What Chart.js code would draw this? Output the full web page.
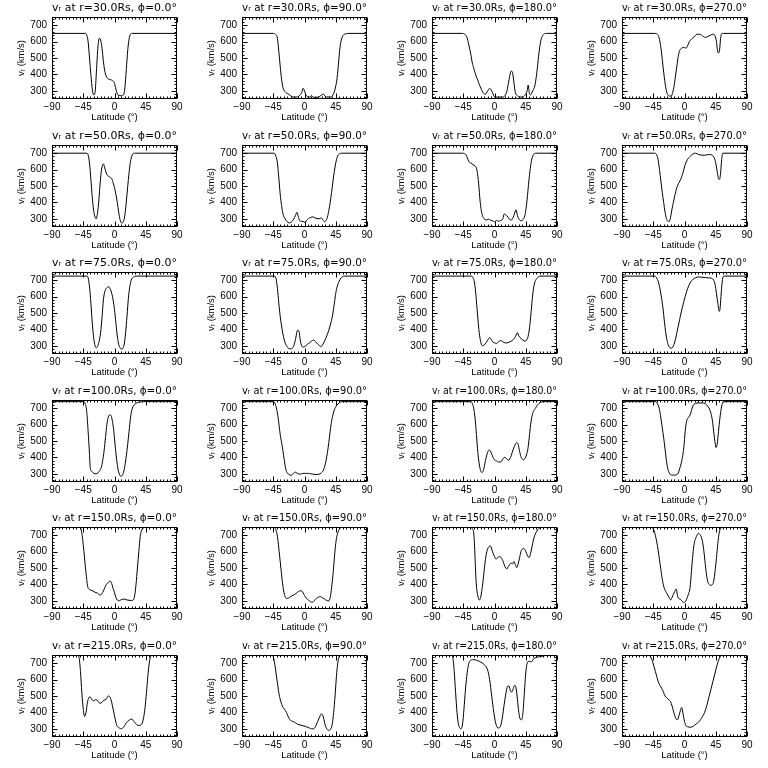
<!DOCTYPE html>
<html>
<head>
<meta charset="utf-8">
<script src="https://cdn.jsdelivr.net/npm/chart.js@4.4.1/dist/chart.umd.min.js"></script>
<style>
  html, body { margin: 0; padding: 0; background: #fff; }
  #wrap { position: relative; width: 768px; height: 768px; overflow: hidden; background: #fff; }
  #wrap canvas { position: absolute; }
</style>
</head>
<body>
<div id="wrap"></div>
<script>
// radial distance (Rs) per row, longitude (deg) per column
const radii = [30, 50, 75, 100, 150, 215];
const phis = [0, 90, 180, 270];
const xTicks = [-90, -45, 0, 45, 90];
const yTicks = [300, 400, 500, 600, 700];
const yMin = 250;
const yMax = 750;

// [latitude, vr km/s]
const v30_0 = [[-90,650],[-42,650],[-40,640],[-38,600],[-36,500],[-34,400],[-32,310],[-30,275],[-28,290],[-26,420],[-24,560],[-22,620],[-20,610],[-18,560],[-16,480],[-14,420],[-12,390],[-10,375],[-6,368],[-2,360],[0,345],[2,310],[4,282],[6,272],[10,270],[13,275],[15,320],[17,430],[19,545],[21,615],[23,645],[26,650],[90,650]];
const v30_90 = [[-90,650],[-45,650],[-42,645],[-39,620],[-37,540],[-35,450],[-33,370],[-31,320],[-28,295],[-24,282],[-20,270],[-16,262],[-12,262],[-8,268],[-4,290],[-2,315],[0,300],[2,275],[5,262],[8,262],[10,272],[12,262],[16,260],[20,262],[24,272],[27,280],[30,265],[34,262],[38,262],[41,275],[44,310],[47,380],[49,470],[51,560],[53,610],[56,640],[60,648],[64,650],[90,650]];
const v30_180 = [[-90,650],[-46,650],[-43,645],[-40,630],[-37,580],[-34,520],[-32,470],[-30,440],[-28,410],[-26,385],[-24,365],[-22,340],[-19,310],[-16,285],[-13,280],[-10,298],[-7,315],[-4,300],[-2,280],[0,262],[4,262],[8,262],[12,262],[15,270],[18,300],[21,370],[24,420],[26,410],[28,350],[30,290],[33,270],[37,262],[41,262],[44,275],[47,300],[48.5,335],[50,290],[52,275],[55,300],[58,330],[60,380],[62,450],[64,530],[66,590],[68,625],[71,645],[75,650],[90,650]];
const v30_270 = [[-90,650],[-42,650],[-39,645],[-37,630],[-35,590],[-33,530],[-31,450],[-29,380],[-27,320],[-25,285],[-22,268],[-19,268],[-17,290],[-15,330],[-13,390],[-11,450],[-9,510],[-7,545],[-4,560],[-1,565],[2,560],[4,570],[7,600],[10,615],[14,630],[18,645],[22,645],[26,635],[30,625],[34,632],[38,640],[41,645],[44,635],[46,600],[47.5,545],[49,530],[50.5,550],[52,620],[53.5,648],[56,650],[90,650]];

const v50_0 = [[-90,700],[-40,700],[-38,690],[-36,640],[-34,540],[-32,430],[-30,350],[-28,310],[-26.5,300],[-25,320],[-23,390],[-21,500],[-19,590],[-17,630],[-16,635],[-14,610],[-12,580],[-10,565],[-7,555],[-4,545],[-2,520],[0,490],[2,450],[4,400],[6,340],[8,295],[10,275],[12,278],[14,300],[16,360],[18,450],[20,540],[22,620],[24,670],[27,698],[30,700],[90,700]];
const v50_90 = [[-90,700],[-44,700],[-41,680],[-39,640],[-37,550],[-35,450],[-33,380],[-31,330],[-28,300],[-25,282],[-22,275],[-19,280],[-16,295],[-13,320],[-11,340],[-9,315],[-7,290],[-4,285],[-1,282],[1,278],[3,290],[6,303],[9,308],[12,312],[15,305],[18,302],[21,300],[24,305],[27,290],[29,282],[31,290],[33,310],[35,350],[37,400],[39,460],[41,530],[43,590],[45,640],[47,675],[50,695],[54,700],[90,700]];
const v50_180 = [[-90,700],[-46,700],[-43,697],[-41,690],[-39,670],[-37,650],[-34,640],[-31,630],[-28,622],[-26,610],[-24,560],[-22.5,500],[-21,420],[-19,350],[-17,315],[-15,300],[-12,292],[-9,298],[-6,292],[-3,288],[0,282],[3,290],[6,285],[9,290],[12,300],[14,330],[16,325],[18,318],[21,300],[24,292],[27,310],[29,335],[31,355],[33,320],[35,300],[38,288],[41,295],[43,310],[45,350],[47,420],[49,510],[51,590],[53,650],[56,690],[60,700],[90,700]];
const v50_270 = [[-90,700],[-43,700],[-40,690],[-38,660],[-36,600],[-34,530],[-32,460],[-30,400],[-28,340],[-26,300],[-24,285],[-22,283],[-20,310],[-18,360],[-16,400],[-14,440],[-11,490],[-8,520],[-5,545],[-3,570],[-1,600],[1,630],[4,660],[8,680],[12,695],[16,700],[20,692],[25,688],[30,688],[35,692],[40,688],[43,670],[45,640],[47,590],[49,545],[50.5,540],[52,580],[53.5,660],[55,700],[90,700]];

const v75_0 = [[-90,725],[-40,725],[-38,715],[-36,660],[-34,560],[-32,440],[-30,350],[-28,300],[-26,288],[-24,300],[-22,330],[-20,380],[-18,470],[-16,580],[-14,630],[-12,650],[-10,658],[-8,660],[-6,645],[-4,620],[-2,580],[0,520],[2,440],[4,360],[6,310],[8,288],[10,280],[12,285],[14,310],[16,380],[18,480],[20,590],[22,660],[24,700],[27,718],[31,725],[90,725]];
const v75_90 = [[-90,725],[-43,725],[-41,710],[-39,650],[-37,560],[-35,480],[-33,420],[-31,370],[-28,320],[-25,295],[-22,282],[-19,282],[-16,295],[-14,320],[-12,360],[-10,395],[-8,390],[-6,330],[-4,300],[-2,292],[1,298],[4,308],[7,318],[10,328],[13,335],[16,325],[19,310],[22,300],[24,295],[26,305],[29,330],[32,360],[35,395],[38,440],[41,500],[43,560],[45,620],[47,660],[50,695],[53,715],[57,725],[90,725]];
const v75_180 = [[-90,725],[-33,725],[-31,715],[-29,690],[-27,620],[-25,520],[-23,420],[-21,350],[-19,310],[-17,300],[-15,305],[-12,320],[-9,340],[-7,350],[-5,340],[-3,325],[0,318],[3,315],[6,325],[9,332],[12,325],[15,318],[18,318],[21,322],[24,328],[27,338],[30,355],[32,375],[33,380],[35,360],[38,345],[41,335],[44,328],[47,340],[49,370],[51,430],[53,520],[55,610],[57,670],[60,705],[63,720],[67,725],[90,725]];
const v75_270 = [[-90,725],[-43,725],[-41,720],[-39,705],[-37,680],[-35,640],[-33,590],[-31,530],[-29,450],[-27,380],[-25,330],[-23,300],[-21,288],[-19,285],[-17,292],[-15,310],[-13,340],[-11,380],[-9,420],[-7,460],[-5,500],[-3,535],[-1,570],[1,600],[3,630],[6,665],[9,690],[12,705],[16,715],[20,720],[25,718],[30,716],[35,714],[39,712],[42,700],[44,675],[46,620],[48,560],[50,510],[51,520],[52.5,600],[54,680],[55.5,720],[57,725],[90,725]];

const v100_0 = [[-90,740],[-44,740],[-42,725],[-40,680],[-38,560],[-36,420],[-35,340],[-33,315],[-31,308],[-28,300],[-25,302],[-22,315],[-19,340],[-17,380],[-15,440],[-13,520],[-11,600],[-9,645],[-7,660],[-5,655],[-3,620],[-1,560],[1,470],[3,390],[5,330],[7,298],[9,285],[11,288],[13,310],[15,350],[17,410],[19,480],[21,560],[23,640],[25,690],[28,718],[32,732],[37,738],[42,740],[90,740]];
const v100_90 = [[-90,740],[-45,740],[-43,735],[-41,710],[-39,670],[-37,610],[-35,540],[-33,490],[-31,440],[-29,380],[-27,330],[-25,305],[-23,298],[-21,292],[-19,290],[-17,300],[-15,305],[-13,310],[-11,305],[-9,300],[-6,298],[-3,302],[0,303],[3,302],[6,303],[9,300],[12,298],[15,296],[18,296],[21,298],[24,305],[27,320],[29,345],[31,380],[33,430],[35,490],[37,560],[39,620],[41,660],[43,690],[46,715],[50,732],[54,740],[90,740]];
const v100_180 = [[-90,740],[-34,740],[-32,730],[-30,700],[-28,640],[-26,540],[-24,430],[-22,360],[-20,320],[-18,308],[-16,320],[-14,360],[-12,400],[-10,430],[-8,445],[-6,440],[-4,420],[-2,400],[0,385],[3,378],[6,372],[9,372],[12,390],[14,400],[16,398],[18,390],[20,382],[22,390],[24,410],[27,450],[30,480],[32,490],[34,480],[36,440],[38,405],[40,390],[42,385],[44,395],[46,415],[48,450],[50,520],[52,600],[54,650],[56,680],[59,700],[62,720],[66,735],[70,740],[90,740]];
const v100_270 = [[-90,740],[-42,740],[-40,735],[-38,720],[-36,690],[-34,640],[-32,580],[-30,520],[-28,450],[-26,380],[-24,330],[-22,305],[-20,295],[-17,292],[-14,292],[-11,295],[-9,305],[-7,330],[-5,360],[-3,400],[-1,460],[1,560],[3,620],[5,640],[7,650],[9,670],[11,700],[13,720],[16,730],[20,732],[25,732],[30,728],[33,715],[36,695],[38,670],[40,630],[42,560],[44,490],[45.5,460],[47,480],[49,560],[51,640],[53,700],[55,735],[57,740],[90,740]];

const v150_0 = [[-90,750],[-50,750],[-48,735],[-46,680],[-44,600],[-42,510],[-40,430],[-38.5,385],[-37,372],[-34,365],[-31,360],[-28,352],[-25,348],[-22,338],[-20,335],[-18,345],[-16,360],[-14,380],[-12,398],[-10,408],[-8,415],[-6,420],[-4,405],[-2,375],[0,350],[2,320],[4,305],[6,300],[9,305],[12,310],[15,310],[18,305],[21,303],[24,302],[27,305],[29,330],[31,400],[33,500],[35,600],[37,690],[39,730],[42,745],[46,750],[90,750]];
const v150_90 = [[-90,750],[-44,750],[-42,740],[-40,715],[-38,660],[-36,580],[-34,500],[-32,420],[-30,360],[-28,325],[-26,315],[-24,315],[-22,320],[-19,328],[-16,335],[-13,342],[-10,352],[-7,360],[-5,362],[-3,355],[-1,340],[1,325],[4,310],[7,300],[10,292],[12,292],[14,300],[17,315],[20,322],[23,325],[26,318],[29,310],[32,302],[35,300],[37,320],[39,380],[41,460],[43,560],[45,650],[47,700],[50,735],[54,748],[58,750],[90,750]];
const v150_180 = [[-90,750],[-34,750],[-32,740],[-30,715],[-29,660],[-28,560],[-27,460],[-26,390],[-24,330],[-22,305],[-20,320],[-18,370],[-16,440],[-14,520],[-12,580],[-10,615],[-8,630],[-6,635],[-4,615],[-2,590],[0,570],[2,555],[4,560],[6,568],[8,570],[10,560],[12,545],[14,520],[16,500],[18,495],[20,510],[22,522],[24,530],[26,525],[28,540],[30,520],[32,502],[34,525],[36,560],[38,600],[40,615],[42,620],[44,610],[46,590],[48,570],[50,565],[52,590],[54,630],[56,670],[58,700],[61,725],[64,742],[68,750],[90,750]];
const v150_270 = [[-90,750],[-48,750],[-46,745],[-44,730],[-42,700],[-40,660],[-38,610],[-36,550],[-34,490],[-32,430],[-30,390],[-28,365],[-26,350],[-24,335],[-22,320],[-20,305],[-18,320],[-16,340],[-14,358],[-12,372],[-10,330],[-8,312],[-6,310],[-4,300],[-2,292],[0,290],[2,300],[4,320],[6,345],[8,380],[10,480],[12,580],[14,650],[16,680],[18,700],[20,712],[22,705],[24,690],[26,660],[28,600],[30,520],[32,450],[34,410],[36,398],[38,395],[40,398],[42,420],[44,480],[46,560],[48,650],[50,715],[53,745],[56,750],[90,750]];

const v215_0 = [[-90,750],[-53,750],[-51,735],[-49,650],[-47,520],[-45,420],[-43,375],[-41,400],[-39,460],[-37,490],[-35,495],[-33,480],[-30,470],[-27,478],[-24,470],[-21,455],[-18,462],[-15,475],[-12,480],[-9,500],[-6,490],[-4,460],[-2,420],[0,380],[2,340],[4,315],[7,305],[10,300],[13,310],[16,330],[19,345],[22,355],[25,360],[28,345],[31,330],[34,320],[37,322],[40,335],[42,370],[44,430],[46,520],[48,620],[50,700],[52,740],[55,750],[90,750]];
const v215_90 = [[-90,750],[-47,750],[-45,740],[-43,700],[-41,640],[-39,580],[-37,520],[-35,480],[-32,440],[-29,420],[-26,400],[-23,370],[-20,350],[-17,345],[-14,340],[-11,330],[-8,325],[-5,322],[-2,318],[1,315],[4,310],[7,305],[10,300],[13,300],[16,315],[19,345],[22,375],[24,390],[26,385],[28,355],[30,320],[32,300],[34,292],[36,290],[38,300],[40,330],[42,400],[44,500],[46,620],[48,705],[50,742],[53,750],[90,750]];
const v215_180 = [[-90,750],[-62,750],[-60,735],[-58,650],[-56,520],[-54,400],[-52,330],[-50,305],[-48,300],[-46,330],[-44,420],[-42,530],[-40,620],[-38,680],[-36,710],[-33,720],[-30,722],[-26,718],[-22,712],[-18,702],[-14,688],[-10,660],[-7,600],[-4,500],[-1,400],[2,330],[5,305],[8,310],[11,360],[14,450],[17,530],[19,560],[21,560],[23,530],[25,525],[27,545],[29,565],[31,550],[33,480],[35,400],[37,360],[39,355],[41,400],[43,520],[45,640],[47,700],[50,712],[53,708],[56,725],[60,735],[65,740],[70,744],[75,748],[80,750],[90,750]];
const v215_270 = [[-90,750],[-52,750],[-50,745],[-48,732],[-46,710],[-44,680],[-42,650],[-40,620],[-38,590],[-36,570],[-34,555],[-32,540],[-30,520],[-28,500],[-26,490],[-24,482],[-22,475],[-20,465],[-18,440],[-16,410],[-14,380],[-12,360],[-10,355],[-8,380],[-6,410],[-4,430],[-2,390],[0,345],[2,320],[5,312],[8,310],[11,312],[14,320],[17,330],[20,340],[23,355],[26,375],[29,400],[32,440],[35,490],[38,540],[41,590],[44,640],[47,690],[50,728],[53,746],[56,750],[90,750]];

const series = [
  [v30_0, v30_90, v30_180, v30_270],
  [v50_0, v50_90, v50_180, v50_270],
  [v75_0, v75_90, v75_180, v75_270],
  [v100_0, v100_90, v100_180, v100_270],
  [v150_0, v150_90, v150_180, v150_270],
  [v215_0, v215_90, v215_180, v215_270]
];

const FONT = "'Liberation Sans', Arial, sans-serif";
const TITLE_FONT = "'DejaVu Sans', sans-serif";

function fmt(v) {
  return v < 0 ? "\u2212" + Math.abs(v) : String(v);
}

// IDL style box with inward major/minor ticks on all four sides
const boxPlugin = {
  id: "idlbox",
  afterDraw(chart) {
    const { ctx, chartArea: a, scales: { x, y } } = chart;
    const L = Math.round(a.left) + 0.5, R = Math.round(a.right) - 0.5;
    const T = Math.round(a.top) + 0.5, B = Math.round(a.bottom) - 0.5;
    ctx.save();
    ctx.strokeStyle = "#000";
    ctx.lineWidth = 1;
    ctx.strokeRect(L, T, R - L, B - T);
    ctx.beginPath();
    for (let v = -90; v <= 90; v += 5) {
      const px = Math.round(x.getPixelForValue(v)) + 0.5;
      const len = v % 45 === 0 ? 5 : 2;
      ctx.moveTo(px, B); ctx.lineTo(px, B - len);
      ctx.moveTo(px, T); ctx.lineTo(px, T + len);
    }
    for (let v = Math.ceil(y.min / 20) * 20; v <= y.max; v += 20) {
      const py = Math.round(y.getPixelForValue(v)) + 0.5;
      const len = v % 100 === 0 ? 5 : 2;
      ctx.moveTo(L, py); ctx.lineTo(L + len, py);
      ctx.moveTo(R, py); ctx.lineTo(R - len, py);
    }
    ctx.stroke();
    ctx.restore();
  }
};

const wrap = document.getElementById("wrap");

radii.forEach((r, row) => {
  phis.forEach((phi, col) => {
    const cv = document.createElement("canvas");
    cv.width = 192;
    cv.height = 128;
    cv.style.left = (col * 190) + "px";
    cv.style.top = Math.round(row * 127.6) + "px";
    wrap.appendChild(cv);

    const pts = series[row][col].map(p => ({ x: p[0], y: p[1] }));

    new Chart(cv.getContext("2d"), {
      type: "line",
      data: {
        datasets: [{
          data: pts,
          borderColor: "#000",
          borderWidth: 1,
          pointRadius: 0,
          fill: false,
          cubicInterpolationMode: "monotone"
        }]
      },
      options: {
        responsive: false,
        animation: false,
        events: [],
        layout: { padding: { left: 0, right: 15, top: 0, bottom: 0 } },
        plugins: {
          legend: { display: false },
          tooltip: { enabled: false },
          title: {
            display: true,
            fullSize: false,
            text: "v\u1D63 at r=" + r.toFixed(1) + "Rs, \u03D5=" + phi.toFixed(1) + "\u00B0",
            color: "#000",
            font: { family: TITLE_FONT, size: 11, weight: "normal", lineHeight: 1.2 },
            padding: { top: 1.5, bottom: 2.3 }
          }
        },
        scales: {
          x: {
            type: "linear",
            min: -90,
            max: 90,
            afterBuildTicks: s => { s.ticks = xTicks.map(v => ({ value: v })); },
            afterFit: s => { s.height = 29; },
            grid: { display: false, drawTicks: false },
            border: { display: false },
            ticks: {
              color: "#000",
              font: { family: FONT, size: 10 },
              padding: 2,
              maxRotation: 0,
              autoSkip: false,
              callback: v => fmt(v)
            },
            title: {
              display: true,
              text: "Latitude (\u00B0)",
              color: "#000",
              font: { family: FONT, size: 9.5 },
              padding: { top: 0, bottom: 4.5 }
            }
          },
          y: {
            type: "linear",
            min: yMin,
            max: yMax,
            afterBuildTicks: s => { s.ticks = yTicks.map(v => ({ value: v })); },
            afterFit: s => { s.width = 52; },
            grid: { display: false, drawTicks: false },
            border: { display: false },
            ticks: {
              color: "#000",
              font: { family: FONT, size: 10 },
              padding: 5,
              autoSkip: false,
              callback: v => fmt(v)
            },
            title: {
              display: true,
              text: "v\u1D63 (km/s)",
              color: "#000",
              font: { family: FONT, size: 9.5 },
              padding: { top: 16, bottom: 0 }
            }
          }
        }
      },
      plugins: [boxPlugin]
    });
  });
});
</script>
</body>
</html>
